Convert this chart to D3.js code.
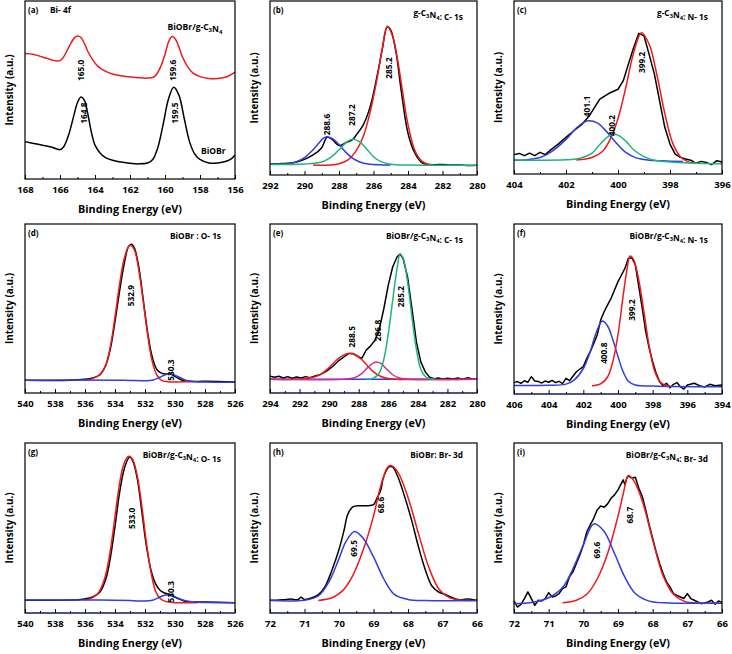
<!DOCTYPE html>
<html><head><meta charset="utf-8">
<script src="https://cdn.jsdelivr.net/npm/d3@7"></script>
<style>
body{margin:0;background:#fff;}
svg{font-family:"Open Sans","DejaVu Sans",sans-serif;font-weight:700;}
</style></head>
<body><svg id="c" width="732" height="654"></svg>
<script>
// ---------- data (binding energy eV, relative intensity % of panel height) ----------
const a_red=[[168,70.5],[167.5,70],[167,68.5],[166.5,67],[166.2,66.3],[166,66.5],[165.8,68.5],[165.5,74],[165.2,79],[165,80.3],[164.8,79.5],[164.6,76],[164.4,71.5],[164.1,66.5],[163.8,63],[163.5,61],[163,59],[162.5,58],[162,57.3],[161,56.7],[160.6,57.5],[160.3,62],[160,70],[159.8,77],[159.6,80],[159.4,78.5],[159.2,74],[159,68.5],[158.7,63],[158.4,59.5],[158,57.5],[157.5,56.5],[157,56.5],[156.5,57.3],[156,60]];
const a_black=[[168,21],[167.5,20],[167,19],[166.5,18],[166,16.5],[165.8,18],[165.5,25],[165.2,36],[165,43],[164.8,46],[164.6,44],[164.4,36],[164.2,26],[164,19],[163.7,14.5],[163.4,12],[163,10.5],[162.5,9.5],[162,8.8],[161.5,8.5],[161,9],[160.7,11],[160.4,18],[160.1,31],[159.8,45],[159.5,51.5],[159.2,47],[158.9,34],[158.6,21],[158.3,14],[158,11],[157.5,9],[157,9],[156.5,10],[156.2,11.5],[156,13.5]];

const b_black=[[292,6.3],[291.5,6.5],[291,6.7],[290.5,7.3],[290,9],[289.5,11.5],[289,15.7],[288.7,21.6],[288.4,20.5],[288,16.9],[287.6,18.6],[287.2,20.5],[287,23],[286.6,28.7],[286.2,39],[285.8,56.5],[285.5,71.8],[285.2,85.2],[285,83.3],[284.7,70.9],[284.4,48.9],[284,24],[283.6,12.5],[283.2,7.1],[283,6.3],[282.5,5.9],[282,6.1],[281.5,5.7],[281,5.8],[280.5,5.5],[280,5.6]];
const b_red=[[289.5,5.7],[288.5,5.8],[288,6.5],[287.5,8.5],[287,14],[286.6,22],[286.2,36],[285.8,55],[285.5,72],[285.2,85.5],[284.9,80],[284.6,66],[284.3,47],[284,29],[283.6,14],[283.2,8],[282.8,6],[282.5,5.6]];
const b_blue=[[292,6.3],[291,6.5],[290.5,7.5],[290,10],[289.6,13.5],[289.2,18],[288.9,21.2],[288.7,22],[288.4,21],[288,17.5],[287.6,13],[287.2,9.5],[286.8,7.5],[286.3,6.3],[285.5,5.8],[285,5.7]];
const b_green=[[292,6],[290,6.3],[289,7.5],[288.5,10],[288,14.5],[287.6,18.5],[287.2,20.5],[286.8,19],[286.4,15],[286,10.5],[285.6,7.8],[285,6.2],[284,5.7],[280,5.6]];

const c_black=[[404,11.2],[403.8,11.9],[403.6,10.6],[403.4,12.1],[403.2,10.6],[403,12.5],[402.8,11.2],[402.6,13.8],[402.3,17.3],[402,21.2],[401.7,25],[401.4,28.5],[401.1,33.7],[400.9,38.5],[400.7,43.3],[400.5,45.2],[400.3,47],[400,49],[399.8,53.8],[399.6,63.5],[399.4,73],[399.2,81.3],[399,79.8],[398.8,69],[398.6,57.7],[398.4,42.3],[398.2,27],[398,17.3],[397.8,11.5],[397.6,9.6],[397.4,8.7],[397.2,8],[397,6.2],[396.8,7.3],[396.6,6.7],[396.4,5.4],[396.2,7.7],[396,6.9]];
const c_red=[[401.6,8.1],[401,9.5],[400.6,13],[400.3,20],[400,32],[399.7,50],[399.4,70],[399.1,81.7],[398.8,75],[398.5,57],[398.2,35],[397.9,18],[397.6,10],[397.3,7],[397,6.3]];
const c_blue=[[404,8],[403.5,8.3],[403,9.5],[402.5,13.5],[402,20],[401.6,26.5],[401.3,30],[401.1,30.8],[400.8,29.5],[400.5,25.5],[400.1,18.5],[399.7,12.5],[399.3,9.3],[398.8,8],[398.3,7.6],[397.5,7.2]];
const c_green=[[404,8.1],[402,8.2],[401.5,9],[401,12],[400.7,17],[400.4,21.5],[400.2,23],[400,22.5],[399.7,19],[399.4,14],[399,10],[398.6,8],[398,7],[396,5.9]];

const d_black=[[540,7.5],[537,7.5],[536,8.1],[535.5,8.9],[535,10.8],[534.6,16.7],[534.3,26.6],[534,42.3],[533.7,60],[533.4,75.8],[533.1,86.6],[532.9,88],[532.7,85.6],[532.4,73.8],[532.1,54.1],[531.8,34.4],[531.5,20.7],[531.2,13.8],[530.9,11.8],[530.6,11.2],[530.3,11.2],[530,9.8],[529.7,8.3],[529.4,7.3],[529,6.9],[528,6.9],[526,6.5]];
const d_red=[[536,7.5],[535.5,8.5],[535,11],[534.6,17],[534.3,28],[534,45],[533.7,64],[533.4,79],[533.1,86.5],[532.95,87.2],[532.7,84.5],[532.4,72],[532.1,53],[531.8,33],[531.5,18],[531.2,10.5],[530.9,7.5],[530.5,6.7],[529.5,6.6],[528.8,6.6]];
const d_blue=[[540,7.6],[534,7.6],[533,7.4],[532,7.3],[531.5,7.6],[531,9.3],[530.6,11],[530.4,11.3],[530.1,10.8],[529.7,9.3],[529.3,7.6],[528.8,6.8],[528,6.5],[526,6.4]];

const e_black=[[294,10],[293.7,9.3],[293.4,9.9],[293.1,8.9],[292.8,9.7],[292.5,8.7],[292.2,9.5],[291.9,8.9],[291.6,9.7],[291.3,9.1],[291,9.9],[290.6,10.9],[290.2,12.8],[289.8,15.4],[289.4,18.8],[289,21.3],[288.7,23.3],[288.4,23.3],[288.1,21.9],[287.8,20.4],[287.5,25.3],[287.2,27.9],[286.9,31.2],[286.6,38.1],[286.3,50],[286,63.8],[285.7,74.7],[285.4,80.6],[285.2,82.2],[285,79.6],[284.7,68.8],[284.4,50],[284.1,30.2],[283.8,18.4],[283.5,12.5],[283.2,9.3],[282.9,8.5],[282.6,8.9],[282.3,8.1],[282,8.7],[281.6,8.3],[281.3,8.9],[281,8.1],[280.6,9.1],[280.3,8.1],[280,8.5]];
const e_red=[[294,8.1],[292,8.3],[291,9.5],[290.5,11.5],[290,15],[289.5,19.5],[289,22.5],[288.6,23.3],[288.2,22.5],[287.8,19.8],[287.4,16],[287,12.5],[286.5,9.8],[286,8.6],[285.5,8.2],[280,8.1]];
const e_magenta=[[294,8.1],[289,8.2],[288.3,9],[287.8,11.5],[287.4,15],[287,17.8],[286.8,18.4],[286.5,17.5],[286.1,14],[285.7,10.8],[285.3,9],[284.8,8.3],[280,8.1]];
const e_green=[[287.5,8.1],[287,8.8],[286.6,12],[286.3,20],[286,35],[285.7,55],[285.4,74],[285.2,82],[285,80],[284.7,66],[284.4,45],[284.1,26],[283.8,14],[283.5,9.8],[283.2,8.4],[282.8,8.1]];
const e_blue=[[294,8.1],[280,8.1]];

const f_black=[[406,6.7],[405.8,7.3],[405.6,6.3],[405.4,7.8],[405.2,6.9],[405,10.2],[404.8,7.6],[404.6,7.3],[404.4,6.5],[404.2,7.6],[404,6.9],[403.8,8],[403.6,6.7],[403.4,7.5],[403.2,6.1],[403,9.2],[402.8,7.8],[402.6,10.4],[402.4,13.1],[402.2,14.7],[402,16.1],[401.8,21],[401.6,24.9],[401.4,29.8],[401.2,34.7],[401,43.5],[400.8,48.4],[400.6,52.4],[400.4,56.3],[400.2,61.2],[400,66.1],[399.8,70],[399.6,73.9],[399.4,79.8],[399.2,80.2],[399,75.9],[398.8,63.1],[398.6,50.4],[398.4,36.7],[398.2,26.9],[398,19],[397.8,12.2],[397.6,7.3],[397.4,4.9],[397.2,6.3],[397,3.7],[396.8,5.7],[396.6,6.7],[396.4,4.3],[396.2,2.9],[396,5.3],[395.6,6.3],[395.3,4.9],[395,4.1],[394.7,5.7],[394.4,4.9],[394,5.3]];
const f_blue=[[406,5],[404,5.1],[403,5.8],[402.5,8.5],[402,15],[401.6,25],[401.3,35],[401,42],[400.9,42.9],[400.6,40],[400.3,32],[400,22],[399.7,13],[399.4,7.5],[399,5.3],[398,4.7],[394,4.2]];
const f_red=[[401.5,4.9],[401,6],[400.6,10],[400.3,19],[400,35],[399.7,58],[399.5,72],[399.3,81.2],[399.1,79],[398.8,67],[398.5,48],[398.2,28],[397.9,14],[397.6,7.5],[397.3,5.2],[397,4.8]];

const g_black=[[540,7.5],[537,7.6],[536,8.3],[535.5,9.4],[535,12.4],[534.6,20.3],[534.3,33],[534,50.8],[533.7,70.5],[533.4,84.3],[533.1,91.1],[533,91.7],[532.8,89.2],[532.5,78.3],[532.2,58.7],[531.9,39],[531.6,25.2],[531.3,17.3],[531,13.4],[530.7,11.8],[530.4,11],[530.1,9.8],[529.8,8.5],[529.4,7.1],[529,6.5],[528,6.5],[526,6.1]];
const g_red=[[536,7.6],[535.5,9],[535.1,12],[534.7,20],[534.4,32],[534.1,50],[533.8,70],[533.5,85],[533.2,91.5],[533,92.1],[532.8,90],[532.5,80],[532.2,62],[531.9,41],[531.6,24],[531.3,13],[531,8.5],[530.6,6.7],[530,6.1],[528.5,6]];
const g_blue=[[540,7.6],[535,7.6],[533,7.3],[532,7],[531.5,7.5],[531.1,9],[530.7,10.5],[530.5,10.6],[530.2,10.1],[529.8,8.7],[529.3,7.2],[528.7,6.4],[528,6.2],[526,6]];

const h_black=[[72,7.5],[71.8,7.5],[71.6,7.8],[71.4,8.2],[71.2,7.8],[71.1,9.2],[71,8],[70.8,8.8],[70.6,10.8],[70.4,15.7],[70.2,25.5],[70,37.3],[69.85,49],[69.75,57.8],[69.6,62.4],[69.4,63.1],[69.2,63.1],[69,63.7],[68.9,67.6],[68.8,71.6],[68.7,80.4],[68.55,85.9],[68.45,85.9],[68.3,80.4],[68.1,68.6],[67.9,54.9],[67.7,39.2],[67.5,25.5],[67.3,15.7],[67.1,12.2],[66.9,10.8],[66.7,8.8],[66.5,7.8],[66.3,8.2],[66,7.5]];
const h_red=[[70.6,7.4],[70.2,9],[69.9,13],[69.6,22],[69.3,37],[69,57],[68.8,74],[68.6,85.5],[68.5,86.7],[68.3,83],[68,68],[67.7,47],[67.4,27],[67.1,14],[66.8,9],[66.5,7.6],[66.2,7.3],[66,7.3]];
const h_blue=[[72,7.3],[71,7.5],[70.6,10],[70.3,18],[70,32],[69.8,42],[69.55,48],[69.3,44],[69,33],[68.7,20],[68.4,11],[68,8],[67.5,7.3],[66,7.3]];

const i_black=[[72,7.1],[71.9,3.5],[71.8,5.1],[71.7,8.5],[71.6,12.4],[71.5,8.5],[71.4,4.5],[71.3,7.5],[71.2,7.1],[71.1,8.5],[71,12],[70.9,9.4],[70.8,10],[70.7,11.4],[70.6,14.4],[70.5,15.4],[70.4,21.3],[70.3,24.2],[70.2,29.1],[70.1,34.1],[70,40],[69.9,47.8],[69.8,51.8],[69.7,55.7],[69.6,60.6],[69.5,63],[69.4,62.2],[69.3,64.2],[69.2,67.5],[69.1,69.5],[69,72.4],[68.9,76.4],[68.85,78.3],[68.8,75.4],[68.75,79.3],[68.7,80.7],[68.6,79.3],[68.5,79.9],[68.4,73.4],[68.3,68.5],[68.2,60.6],[68.1,51.8],[68,43.9],[67.9,36],[67.8,29.1],[67.7,23.2],[67.6,18.3],[67.5,15.4],[67.4,11.4],[67.3,10.4],[67.2,9.4],[67.1,8.5],[67,11.4],[66.9,8.5],[66.8,7.5],[66.7,6.5],[66.6,5.5],[66.4,6.5],[66.3,7.5],[66.2,5.1],[66.1,7.1],[66,6.1]];
const i_red=[[70.6,6],[70.2,7.5],[69.9,11],[69.6,20],[69.3,35],[69,57],[68.85,70],[68.7,80.9],[68.55,78],[68.3,66],[68,43],[67.7,22],[67.4,11],[67.1,7],[66.8,6],[66,5.8]];
const i_blue=[[72,5.5],[71.5,6.2],[71,9],[70.6,15],[70.3,26],[70,40],[69.7,52.4],[69.4,48],[69.1,35],[68.8,21],[68.5,11.5],[68.1,7],[67.5,5.9],[66,5.8]];

// axis ticks (eV)
const ticks_a=[168,166,164,162,160,158,156];
const ticks_b=[292,290,288,286,284,282,280];
const ticks_c=[404,402,400,398,396];
const ticks_d=[540,538,536,534,532,530,528,526];
const ticks_e=[294,292,290,288,286,284,282,280];
const ticks_f=[406,404,402,400,398,396,394];
const ticks_hi=[72,71,70,69,68,67,66];

// peak annotations: [label, eV position, % height of label centre]
const a_peaks=[["165.0",164.85,61],["159.6",159.6,61],["164.8",164.65,37],["159.5",159.43,37]];
const b_peaks=[["288.6",288.7,29],["287.2",287.27,34.5],["285.2",285.14,61.5]];
const c_peaks=[["401.1",401.2,39],["400.2",400.24,28],["399.2",399.09,64.5]];
const d_peaks=[["532.9",532.95,57.6],["530.3",530.3,13.5]];
const e_peaks=[["288.5",288.52,33.3],["286.8",286.72,37],["285.2",285.2,57]];
const f_peaks=[["400.8",400.85,24],["399.2",399.2,49.4]];
const g_peaks=[["533.0",532.93,55.7],["530.3",530.33,12.5]];
const h_peaks=[["69.5",69.58,38],["68.6",68.81,63.5]];
const i_peaks=[["69.6",69.63,37],["68.7",68.67,57.6]];

// panel titles
const letters=["(a)","(b)","(c)","(d)","(e)","(f)","(g)","(h)","(i)"];
const titles=["Bi- 4f","g-C{3}N{4}: C- 1s","g-C{3}N{4}: N- 1s","BiOBr : O- 1s","BiOBr/g-C{3}N{4}: C- 1s","BiOBr/g-C{3}N{4}: N- 1s","BiOBr/g-C{3}N{4}: O- 1s","BiOBr: Br- 3d","BiOBr/g-C{3}N{4}: Br- 3d"];

// ---------- styling / layout ----------
const BLACK="#000", RED="#f01818", BLUE="#2f3fe0", GREEN="#1fb47c", MAGENTA="#c8309f";
const layout=[
 {box:[25,1,235,179], dom:[168,156], ticks:ticks_a, minor:1, series:[[a_red,RED],[a_black,BLACK]], peaks:a_peaks},
 {box:[270,1,477,175], dom:[292,280], ticks:ticks_b, minor:1, series:[[b_black,BLACK],[b_red,RED],[b_blue,BLUE],[b_green,GREEN]], peaks:b_peaks},
 {box:[514,1,722,174], dom:[404,396], ticks:ticks_c, minor:1, series:[[c_black,BLACK],[c_red,RED],[c_blue,BLUE],[c_green,GREEN]], peaks:c_peaks, noisy:true},
 {box:[25,224,235,393], dom:[540,526], ticks:ticks_d, minor:1, series:[[d_black,BLACK],[d_red,RED],[d_blue,BLUE]], peaks:d_peaks},
 {box:[270,224,477,393], dom:[294,280], ticks:ticks_e, minor:1, series:[[e_blue,BLUE],[e_black,BLACK],[e_red,RED],[e_magenta,MAGENTA],[e_green,GREEN]], peaks:e_peaks, noisy:true, blueBase:true},
 {box:[514,224,722,394], dom:[406,394], ticks:ticks_f, minor:1, series:[[f_black,BLACK],[f_blue,BLUE],[f_red,RED]], peaks:f_peaks, noisy:true, blueBase:true},
 {box:[25,443,235,613], dom:[540,526], ticks:ticks_d, minor:1, series:[[g_black,BLACK],[g_red,RED],[g_blue,BLUE]], peaks:g_peaks, blueBase:true},
 {box:[270,443,477,613], dom:[72,66], ticks:ticks_hi, minor:0.5, series:[[h_black,BLACK],[h_red,RED],[h_blue,BLUE]], peaks:h_peaks, blueBase:true},
 {box:[514,443,722,613], dom:[72,66], ticks:ticks_hi, minor:0.5, series:[[i_black,BLACK],[i_red,RED],[i_blue,BLUE]], peaks:i_peaks, noisy:true, blueBase:true}
];

const svg=d3.select("#c");

function richText(sel, str, size){
  const parts=str.split(/(\{[^}]*\})/).filter(s=>s.length);
  parts.forEach(p=>{
    if(p[0]==="{"){
      sel.append("tspan").attr("font-size",size*0.7).attr("dy",size*0.25).text(p.slice(1,-1));
      sel.append("tspan").attr("dy",-size*0.25).text("");
    } else sel.append("tspan").text(p);
  });
}

layout.forEach((P,k)=>{
  const [L,T,R,B]=P.box;
  const x=d3.scaleLinear().domain(P.dom).range([L,R]);
  const y=d3.scaleLinear().domain([0,100]).range([B,T]);
  const g=svg.append("g");

  P.series.forEach(([d,col])=>{
    const noisyBlack = P.noisy && col===BLACK;
    const line=d3.line().x(p=>x(p[0])).y(p=>y(p[1]))
      .curve(noisyBlack?d3.curveLinear:d3.curveCatmullRom.alpha(0.5));
    g.append("path").datum(d).attr("d",line).attr("fill","none")
      .attr("stroke",col).attr("stroke-width",1.5).attr("stroke-linejoin","round");
  });

  // frame
  g.append("rect").attr("x",L).attr("y",T).attr("width",R-L).attr("height",B-T)
    .attr("fill","none").attr("stroke","#000").attr("stroke-width",1.2);
  if(P.blueBase){
    g.append("line").attr("x1",L).attr("x2",R).attr("y1",B).attr("y2",B)
      .attr("stroke","#3a3f9a").attr("stroke-width",1.2);
  }

  // x axis: inward ticks
  const lo=Math.min(...P.dom), hi=Math.max(...P.dom);
  const minorTicks=d3.range(lo,hi+1e-9,P.minor).filter(v=>!P.ticks.some(t=>Math.abs(t-v)<1e-9));
  const ax=g.append("g").attr("transform",`translate(0,${B})`);
  ax.call(d3.axisBottom(x).tickValues(P.ticks).tickFormat(d3.format("d")).tickSize(-4).tickPadding(7));
  ax.select(".domain").remove();
  ax.selectAll("text").attr("font-size",9.5).attr("font-weight",700).attr("font-family","Open Sans").attr("fill","#000");
  ax.selectAll("line").attr("stroke-width",1);
  const ax2=g.append("g").attr("transform",`translate(0,${B})`);
  ax2.call(d3.axisBottom(x).tickValues(minorTicks).tickFormat("").tickSize(-2));
  ax2.select(".domain").remove();

  // axis titles
  g.append("text").attr("x",(L+R)/2).attr("y",B+34).attr("text-anchor","middle")
    .attr("font-size",10.8).text("Binding Energy (eV)");
  g.append("text").attr("transform",`translate(${L-12},${(T+B)/2}) rotate(-90)`)
    .attr("text-anchor","middle").attr("font-size",9.8).text("Intensity (a.u.)");

  // panel letter + title
  g.append("text").attr("x",L+3).attr("y",T+12).attr("font-size",8).text(letters[k]);
  const tt=g.append("text").attr("font-size",8.3);
  if(k===0){ tt.attr("x",L+25).attr("y",T+12); }
  else { tt.attr("x",R-14).attr("y",T+15).attr("text-anchor","end"); }
  richText(tt,titles[k],8.3);

  // peak labels
  P.peaks.forEach(([lab,ev,h])=>{
    g.append("text").attr("transform",`translate(${x(ev)},${y(h)}) rotate(-90)`)
      .attr("text-anchor","middle").attr("dominant-baseline","central")
      .attr("font-size",8.3).text(lab);
  });

  if(k===0){
    const t1=g.append("text").attr("x",x(165)+90).attr("y",T+29).attr("font-size",8.5);
    richText(t1,"BiOBr/g-C{3}N{4}",8.5);
    g.append("text").attr("x",R-34).attr("y",T+153).attr("font-size",8.5).text("BiOBr");
  }
});
</script></body></html>
